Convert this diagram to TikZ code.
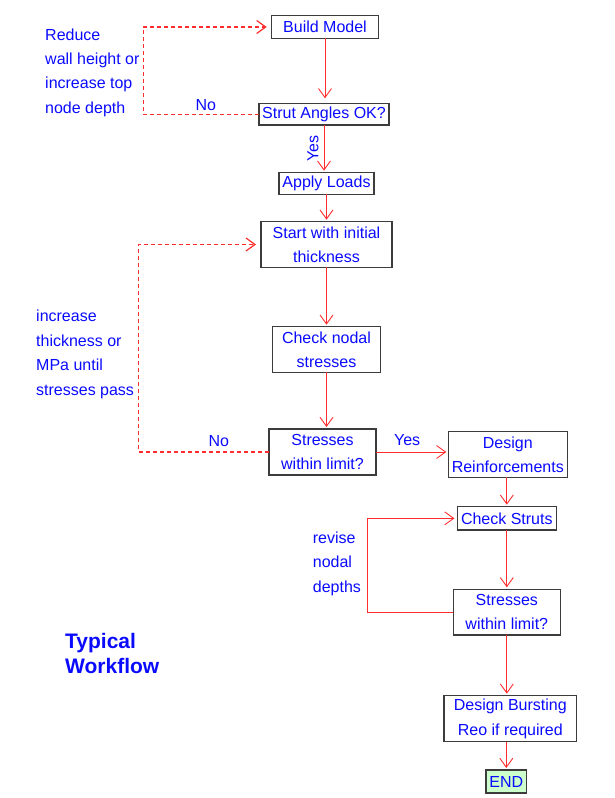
\documentclass[tikz,border=0pt]{standalone}
\usepackage{fontspec}
\setmainfont{Liberation Sans}
\usetikzlibrary{positioning, arrows.meta}
\definecolor{flowred}{RGB}{255,45,45}
\definecolor{flowblue}{RGB}{10,10,255}
\definecolor{boxgray}{RGB}{60,60,60}
\definecolor{endgreen}{RGB}{204,255,204}

\begin{document}
\begin{tikzpicture}[x=1pt, y=-1pt,
    font=\fontsize{16}{24.4}\selectfont,
    every node/.style={text=flowblue},
    box/.style={draw=boxgray, line width=1.2pt, fill=white,
        inner sep=0pt, outer sep=0pt, align=center},
    flow/.style={draw=flowred, line width=0.9pt,
        -{Straight Barb[length=9pt,width=13pt]}, shorten >=2pt},
    loop/.style={flow, line width=1.2pt, dash pattern=on 4pt off 3pt, shorten >=5pt},
    note/.style={anchor=north west, inner sep=0pt, align=left}]
    \useasboundingbox (0,0) rectangle (615,798);

    % Add the boxes
        \node[box,
              minimum width=106.6pt,
              minimum height=22.6pt] (bm) at (325,27) {Build Model};
        \node[box,
              below=65pt of bm,
              xshift=-1pt,
              minimum width=130pt,
              minimum height=21.7pt] (sa) {Strut Angles OK?};
        \node[box,
              below=47.7pt of sa,
              xshift=2.5pt,
              minimum width=95pt,
              minimum height=21.6pt] (al) {Apply Loads};
        \node[box,
              below=27.4pt of al,
              minimum width=131pt,
              minimum height=45.6pt] (st) {Start with initial\\thickness};
        \node[box,
              below=59.4pt of st,
              minimum width=107.7pt,
              minimum height=45.6pt] (cn) {Check nodal\\stresses};
        \node[box,
              below=56.7pt of cn,
              xshift=-4pt,
              minimum width=107pt,
              minimum height=46pt] (s1) {Stresses\\within limit?};
        \node[box,
              right=72.3pt of s1,
              yshift=-2.5pt,
              minimum width=119pt,
              minimum height=45.6pt] (dr) {Design\\Reinforcements};
        \node[box,
              below=29.4pt of dr,
              xshift=-1pt,
              minimum width=98.7pt,
              minimum height=23.3pt] (cs) {Check Struts};
        \node[box,
              below=59.3pt of cs,
              minimum width=107.4pt,
              minimum height=45.7pt] (s2) {Stresses\\within limit?};
        \node[box,
              below=60.7pt of s2,
              xshift=3.5pt,
              minimum width=132.7pt,
              minimum height=46pt] (db) {Design Bursting\\Reo if required};
        \node[box,
              below=28.3pt of db,
              xshift=-4pt,
              fill=endgreen,
              minimum width=40.7pt,
              minimum height=23pt] (end) {END};

    % Notes beside the loops
        \node[note] (reduce) at (45,28.3) {Reduce\\wall height or\\increase top\\node depth};
        \node[note] (increase) at (36,310.2) {increase\\thickness or\\MPa until\\stresses pass};
        \node[note] (revise) at (312.7,531.5) {revise\\nodal\\depths};
        \node[note, font=\fontsize{21}{25}\selectfont\bfseries] (title) at (65,633) {Typical\\Workflow};

    % Connectors
        \draw[flow, shorten >=5pt] (bm) -- (bm |- sa.north);
        \draw[flow] (sa) -- (sa |- al.north)
            node[midway, rotate=90, anchor=south, inner sep=5pt] (yes1) {Yes};
        \draw[flow] (al) -- (al |- st.north);
        \draw[flow] (st) -- (st |- cn.north);
        \draw[flow] (cn) -- (cn |- s1.north);
        \draw[flow] (s1) -- (s1 -| dr.west)
            node[pos=0.43, above, inner sep=6pt] (yes2) {Yes};
        \draw[flow] (cs |- dr.south) -- (cs);
        \draw[flow] (cs) -- (cs |- s2.north);
        \draw[flow] (s2) -- (s2 |- db.north);
        \draw[flow] (end |- db.south) -- (end);

    % Loops back
        \draw[loop] (sa.west) -- ++(-115.7,0)
            node[pos=0.46, above, inner sep=2.5pt] (no1) {No} |- (bm.west);
        \draw[loop] (s1.west) -- ++(-130.3,0)
            node[pos=0.385, above, inner sep=5pt] (no2) {No} |- (st.west);
        \draw[flow, shorten >=3pt] (s2.west) -- ++(-86,0) |- (cs.west);
\end{tikzpicture}
\end{document}
